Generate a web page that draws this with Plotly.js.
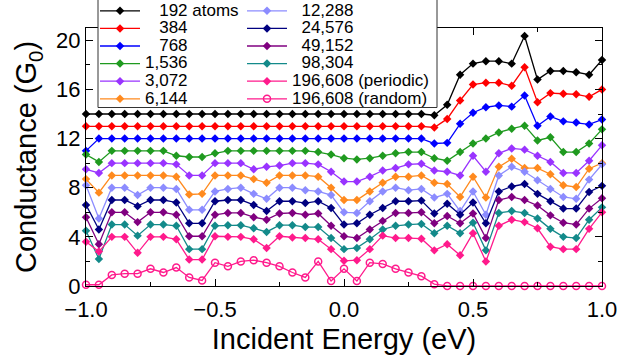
<!DOCTYPE html>
<html><head><meta charset="utf-8">
<script src="https://cdn.plot.ly/plotly-3.0.1.min.js"></script>
<style>html,body{margin:0;padding:0;background:#fff;}#chart{width:618px;height:364px;}</style>
</head><body><div id="chart"></div>
<script>
const energy = [-1.00,-0.95,-0.90,-0.85,-0.80,-0.75,-0.70,-0.65,-0.60,-0.55,-0.50,-0.45,-0.40,-0.35,-0.30,-0.25,-0.20,-0.15,-0.10,-0.05,0.00,0.05,0.10,0.15,0.20,0.25,0.30,0.35,0.40,0.45,0.50,0.55,0.60,0.65,0.70,0.75,0.80,0.85,0.90,0.95,1.00];

const seriesLabels = ['192 atoms','384','768','1,536','3,072','6,144','12,288','24,576','49,152','98,304','196,608 (periodic)','196,608 (random)'];
const labelPads = ['\u2007\u2008','\u2007\u2008','\u2007\u2008','','','','\u2007','\u2007','\u2007','\u2007','',''];

const g192 = [14,14,14,14,14,14,14,14,14,14, 14,14,14,14,14,14,14,14,14,14, 14,14,14,14,14,14,14,13.9,14.75,17.2, 18.1,18.3,18.3,18.1,20.35,16.8,17.5,17.5,17.4,17.2, 18.4];
const g384 = [13,13,13,13,13,13,13,13,13,13, 13,13,13,13,13,13,13,13,13,13, 13,13,13,13,13,13,13,12.9,13.6,15.1, 16.4,16.55,16.55,16.3,17.8,14.95,15.7,15.65,15.6,15.4, 16.0];
const g768 = [11,12,12,12,12,12,12,12,12,12, 12,12,12,12,12,12,12,12,12,12, 12,12,12,12,12,12,12,11.6,11.65,13.2, 14.1,14.55,14.7,14.6,15.5,13.05,13.8,13.4,13.3,13.15, 13.55];
const g1536 = [10.7,10.1,11,11,11,11,11,10.6,10.5,10.5, 10.8,11,11,11,11,11,11,11,10.9,10.7, 10.4,10.3,10.4,10.6,10.8,10.9,10.9,10.4,10.2,10.9, 11.6,12.0,12.5,12.8,13.05,11.85,12.1,10.9,10.9,11.6, 12.75];
const g3072 = [9.5,9.2,10,10,10,10,10,9.9,9.0,9.0, 10,10,10,9.5,9.7,9.8,10,10,9.9,9.3, 8.5,8.5,8.9,9.4,9.6,9.9,9.95,9.4,9.3,9.0, 10.6,9.3,10.8,11.2,11.1,10.6,10.1,9.2,9.2,10.2, 11.45];
const g6144 = [8.7,7.6,9,9,9,9,9,8.9,7.45,7.5, 9,9,9,8.7,8.4,9,9,9,8.9,8.0, 7.0,7.0,7.7,8.4,8.9,8.9,9.0,8.4,8.3,7.25, 8.9,7.2,9.7,10.35,9.6,9.6,9.1,8.2,8.05,9.55, 10.0];
const g12288 = [8.2,5.5,8,8,7.4,8,8,7.9,6.2,6.2, 7.7,7.9,8,7.5,7.1,8,8,7.8,7.7,7.4, 6.0,5.95,6.9,7.7,8.0,7.8,7.9,7.2,7.5,6.1, 7.7,5.8,9.0,9.7,9.3,8.6,7.9,7.25,7.1,8.66, 9.9];
const g24576 = [6.6,4.6,7,7,6.5,7,7,6.8,5.1,5.1, 6.9,7,7,6.6,6.1,6.9,6.9,6.75,6.9,6.35, 5.0,5.1,5.8,6.35,6.9,6.9,6.95,5.9,6.7,5.8, 6.8,5.1,7.7,8.1,8.3,7.5,6.9,6.3,6.3,7.65, 8.15];
const g49152 = [5.6,3.4,6,6,5.2,6,6,5.8,4.05,4.05, 5.8,5.95,5.95,5.6,5.4,5.9,5.95,5.8,5.9,4.9, 4.05,3.9,4.6,5.3,5.95,5.95,6.0,5.1,5.7,5.1, 5.9,3.9,7.0,7.25,7.0,6.55,5.75,5.15,5.0,6.3, 7.15];
const g98304 = [4.5,2.2,5,5,4.1,5,5,4.9,3.0,3.0, 4.9,4.95,4.95,4.7,4.4,4.95,4.95,4.8,4.8,3.9, 3.0,3.1,3.8,4.6,4.9,5.0,5.05,4.3,4.9,4.3, 5.15,2.9,5.95,6.1,5.95,5.5,4.65,4.0,3.9,5.4, 6.4];
const gPeriodic = [3.6,2.8,4,4,2.7,4,4,3.8,2.15,2.15, 4.05,4,4,3.8,3.1,4.05,3.95,3.9,3.8,3.0, 2.05,2.1,3.0,4.1,3.9,3.9,3.85,2.9,3.4,2.5, 4.3,2.0,4.9,5.4,5.2,4.7,3.2,3.0,3.0,4.65, 6.0];
const gRandom = [0.1,0.1,0.9,1.0,1.0,1.4,1.1,1.5,0.7,0.45, 1.9,1.6,2.0,2.1,1.9,1.6,1.1,0.7,2.0,0.4, 1.4,0.4,1.9,1.8,1.4,1.1,0.8,0.15,0,0, 0,0,0,0,0,0,0,0,0,0, 0];

const seriesValues = [g192,g384,g768,g1536,g3072,g6144,g12288,g24576,g49152,g98304,gPeriodic,gRandom];
const colors = ['#000000','#ff0000','#0000ff','#1f9a1f','#9933ff','#ff8a1e','#8c8cff','#000080','#800080','#138a8a','#ff1a8c','#ff1a8c'];

const FONT = 'Liberation Sans, Arial, sans-serif';
const legendId = i => (i === 0 ? 'legend' : 'legend' + (i + 1));

const traces = seriesValues.map((vals, i) => {
  const isRandom = i === 11;
  return {
    type: 'scatter', mode: 'lines+markers',
    x: energy, y: vals,
    name: '<span style="font-size:17px">' + labelPads[i] + seriesLabels[i] + '</span>',
    legend: legendId(i),
    line: {color: colors[i], width: 1.3},
    marker: isRandom ? {symbol: 'circle-open', size: 7, color: colors[i], line: {width: 1.5, color: colors[i]}}
                     : {symbol: 'diamond', size: 6.5, color: colors[i]},
    cliponaxis: false,
    hoverinfo: 'skip'
  };
});

const plotL = 86, plotW = 516, plotT = 28, plotH = 258;
const px2x = p => (p - plotL) / plotW;
const px2y = p => (plotT + plotH - p) / plotH;

const axisCommon = {
  showline: true, mirror: 'ticks', linecolor: '#000', linewidth: 1,
  ticks: 'inside', ticklen: 7, tickwidth: 1, tickcolor: '#000',
  showgrid: false, zeroline: false,
  tickfont: {family: FONT, size: 22, color: '#000'}
};

const layout = {
  width: 618, height: 364,
  margin: {l: plotL, r: 618 - plotL - plotW, t: plotT, b: 364 - plotT - plotH, autoexpand: false},
  paper_bgcolor: '#fff', plot_bgcolor: '#fff',
  font: {family: FONT, color: '#000'},
  xaxis: Object.assign({}, axisCommon, {
    range: [-1, 1], dtick: 0.5, tick0: -1, tickformat: '.1f', ticklabelstandoff: 4,
    minor: {dtick: 0.25, ticks: 'inside', ticklen: 4, tickcolor: '#000', showgrid: false},
    title: {text: 'Incident Energy (eV)', font: {family: FONT, size: 29, color: '#000'}, standoff: 7}
  }),
  yaxis: Object.assign({}, axisCommon, {
    range: [0, 21], dtick: 4, tick0: 0,
    minor: {dtick: 2, ticks: 'inside', ticklen: 4, tickcolor: '#000', showgrid: false},
    title: {text: 'Conductance (G<sub>0</sub>)', font: {family: FONT, size: 29, color: '#000'}, standoff: 10}
  }),
  showlegend: true,
  shapes: [{type: 'rect', xref: 'paper', yref: 'paper', layer: 'above',
            x0: px2x(98), x1: px2x(437), y0: px2y(107.5), y1: px2y(-6),
            fillcolor: '#ffffff', line: {color: '#333', width: 1}}]
};

// one legend box per entry so the row pitch can match the reference
const colX = [95, 242];
const firstRow = 10.8, rowPitch = 17.6, itemH = 19;
seriesLabels.forEach((lab, i) => {
  const col = i < 6 ? 0 : 1, row = i % 6;
  const centre = firstRow + row * rowPitch;
  layout[legendId(i)] = {
    x: px2x(colX[col]), y: px2y(centre - itemH / 2 - 5), xanchor: 'left', yanchor: 'top',
    bgcolor: 'rgba(0,0,0,0)', borderwidth: 0,
    font: {family: FONT, size: 12.3, color: '#000'}, itemwidth: 40
  };
});

Plotly.newPlot('chart', traces, layout, {displayModeBar: false, staticPlot: true});
</script>
</body></html>
